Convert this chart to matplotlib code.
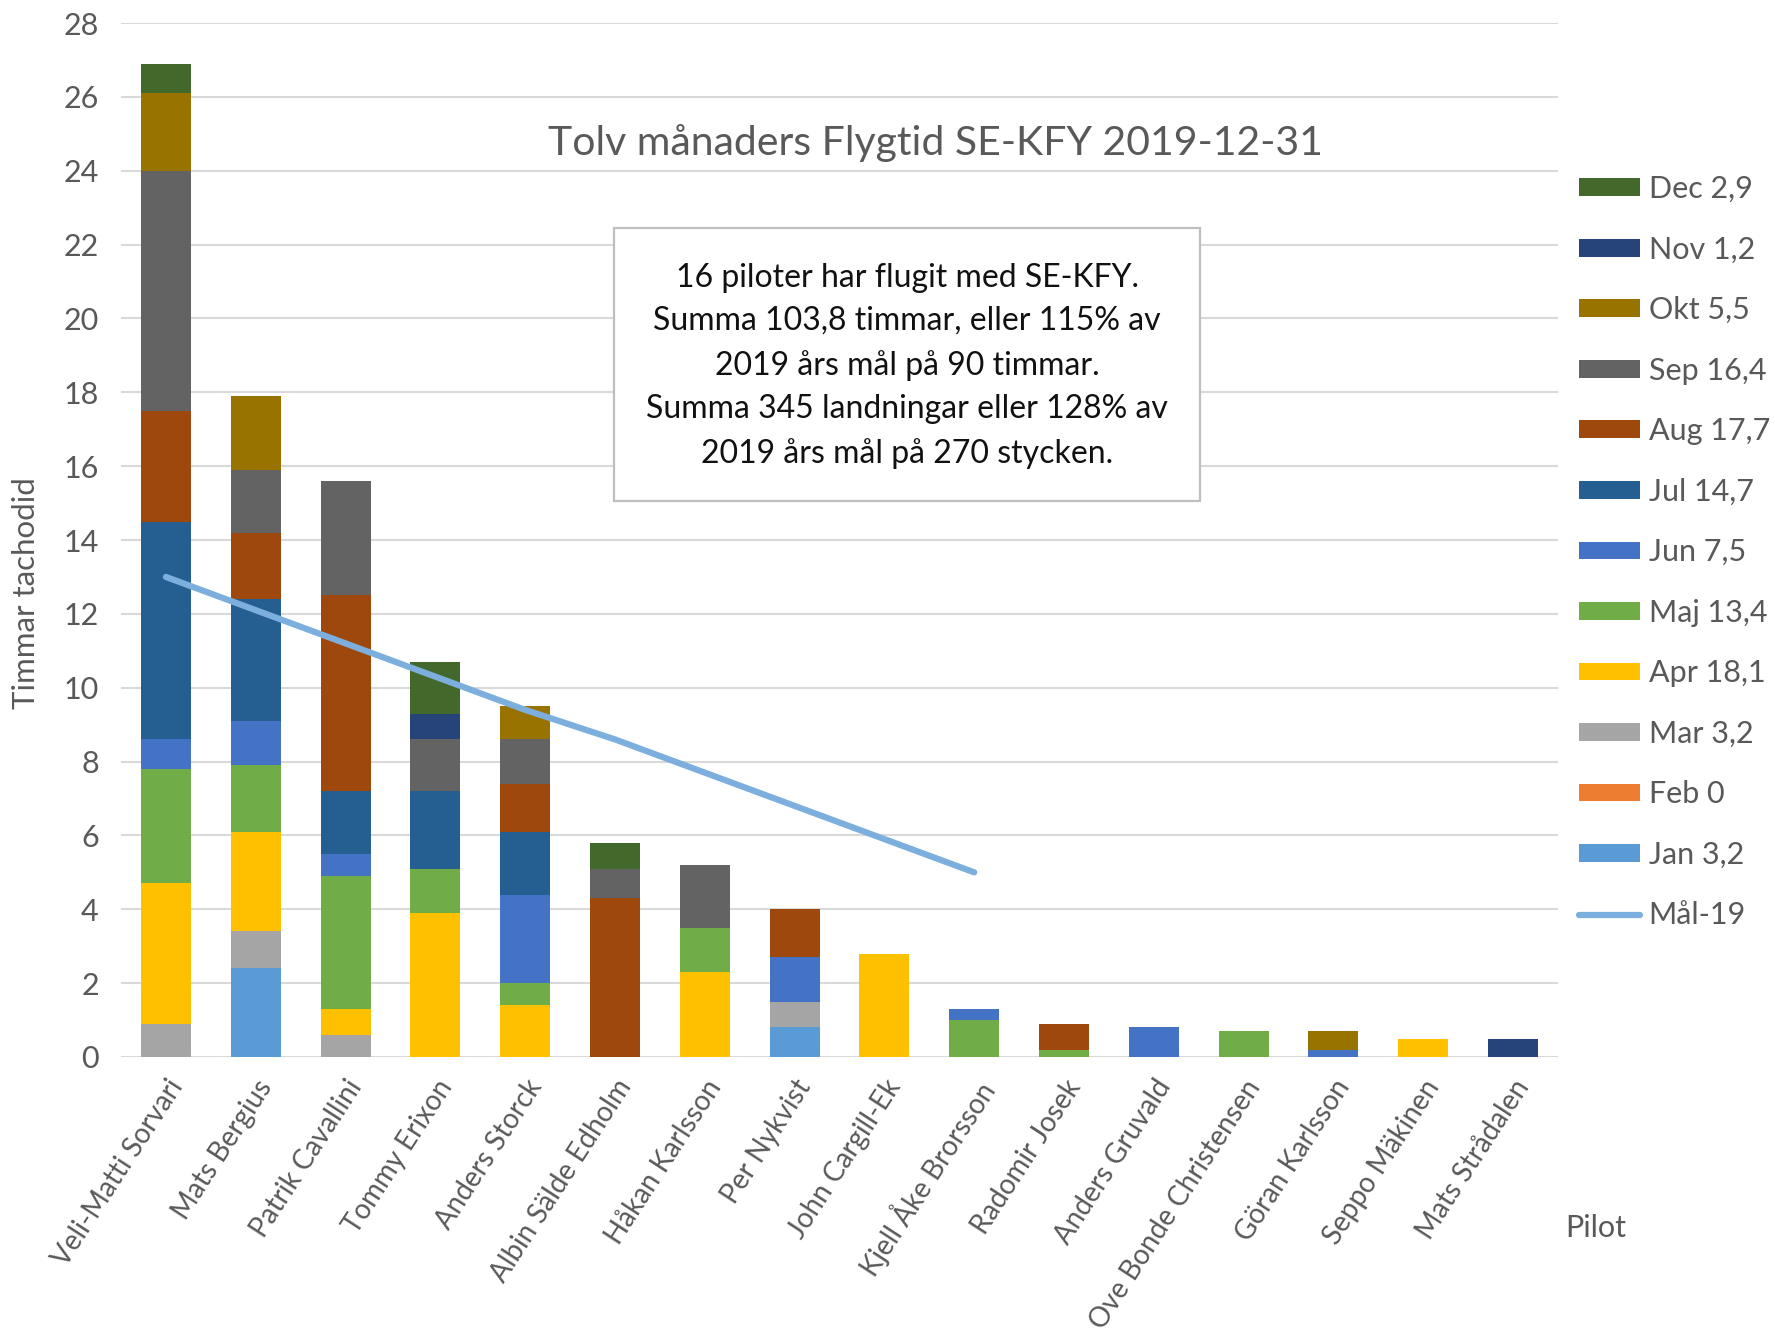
import matplotlib
matplotlib.use("Agg")
import matplotlib.pyplot as plt
import numpy as np
from matplotlib.patches import Rectangle, Patch
from matplotlib.lines import Line2D

plt.rcParams['font.family'] = ['Lato', 'DejaVu Sans']

pilots = ["Veli-Matti Sorvari", "Mats Bergius", "Patrik Cavallini", "Tommy Erixon",
          "Anders Storck", "Albin Sälde Edholm", "Håkan Karlsson", "Per Nykvist",
          "John Cargill-Ek", "Kjell Åke Brorsson", "Radomir Josek", "Anders Gruvald",
          "Ove Bonde Christensen", "Göran Karlsson", "Seppo Mäkinen", "Mats Strådalen"]

months = ["Jan", "Feb", "Mar", "Apr", "Maj", "Jun", "Jul", "Aug", "Sep", "Okt", "Nov", "Dec"]
month_totals = ["3,2", "0", "3,2", "18,1", "13,4", "7,5", "14,7", "17,7", "16,4", "5,5", "1,2", "2,9"]

jan = [0, 2.4, 0, 0, 0, 0, 0, 0.8, 0, 0, 0, 0, 0, 0, 0, 0]
feb = [0, 0, 0, 0, 0, 0, 0, 0, 0, 0, 0, 0, 0, 0, 0, 0]
mar = [0.9, 1.0, 0.6, 0, 0, 0, 0, 0.7, 0, 0, 0, 0, 0, 0, 0, 0]
apr = [3.8, 2.7, 0.7, 3.9, 1.4, 0, 2.3, 0, 2.8, 0, 0, 0, 0, 0, 0.5, 0]
maj = [3.1, 1.8, 3.6, 1.2, 0.6, 0, 1.2, 0, 0, 1.0, 0.2, 0, 0.7, 0, 0, 0]
jun = [0.8, 1.2, 0.6, 0, 2.4, 0, 0, 1.2, 0, 0.3, 0, 0.8, 0, 0.2, 0, 0]
jul = [5.9, 3.3, 1.7, 2.1, 1.7, 0, 0, 0, 0, 0, 0, 0, 0, 0, 0, 0]
aug = [3.0, 1.8, 5.3, 0, 1.3, 4.3, 0, 1.3, 0, 0, 0.7, 0, 0, 0, 0, 0]
sep = [6.5, 1.7, 3.1, 1.4, 1.2, 0.8, 1.7, 0, 0, 0, 0, 0, 0, 0, 0, 0]
okt = [2.1, 2.0, 0, 0, 0.9, 0, 0, 0, 0, 0, 0, 0, 0, 0.5, 0, 0]
nov = [0, 0, 0, 0.7, 0, 0, 0, 0, 0, 0, 0, 0, 0, 0, 0, 0.5]
dec = [0.8, 0, 0, 1.4, 0, 0.7, 0, 0, 0, 0, 0, 0, 0, 0, 0, 0]

mal_19 = [13.0, 12.1, 11.2, 10.3, 9.4, 8.6, 7.7, 6.8, 5.9, 5.0]

series = [jan, feb, mar, apr, maj, jun, jul, aug, sep, okt, nov, dec]
colors = ["#5B9BD5", "#ED7D31", "#A5A5A5", "#FFC000", "#70AD47", "#4472C4",
          "#255E91", "#9E480E", "#636363", "#997300", "#264478", "#43682B"]
line_color = "#7CAFDD"
text_gray = "#595959"

W, H = 1775, 1333
fig = plt.figure(figsize=(W / 100, H / 100), dpi=100)
left, right, top, bottom = 121, 1558, 23, 1057
ax = fig.add_axes([left / W, 1 - bottom / H, (right - left) / W, (bottom - top) / H])

x = np.arange(len(pilots))
base = np.zeros(len(pilots))
for vals, c in zip(series, colors):
    v = np.array(vals, dtype=float)
    ax.bar(x, v, width=0.557, bottom=base, color=c, zorder=2, linewidth=0)
    base += v

ax.plot(np.arange(len(mal_19)), mal_19, color=line_color, lw=4.5,
        solid_capstyle='round', zorder=3)

ax.set_xlim(-0.5, len(pilots) - 0.5)
ax.set_ylim(0, 28)
ax.set_yticks(np.arange(0, 29, 2))
ax.yaxis.grid(True, color="#D9D9D9", lw=1.5, zorder=0)
ax.set_axisbelow(True)
for s in ax.spines.values():
    s.set_visible(False)
ax.tick_params(axis='both', length=0, labelcolor=text_gray)
ax.tick_params(axis='y', pad=16, labelsize=22)
ax.set_xticks(x)
ax.set_xticklabels(pilots, rotation=57, ha='right', va='top',
                   rotation_mode='anchor', fontsize=20, color=text_gray)
ax.tick_params(axis='x', pad=13)

fig.text(26 / W, 1 - 593 / H, "Timmar tachodid", rotation=90, ha='center', va='center',
         fontsize=22.5, color=text_gray)
fig.text(935 / W, 1 - 143 / H, "Tolv månaders Flygtid SE-KFY 2019-12-31",
         ha='center', va='center', fontsize=29.5, color=text_gray)
fig.text(1596 / W, 1 - 1228 / H, "Pilot", ha='center', va='center',
         fontsize=22, color=text_gray)

# text box
rect = Rectangle((614 / W, 1 - 501 / H), (1200 - 614) / W, (501 - 228) / H,
                 transform=fig.transFigure, facecolor='white', edgecolor='#BFBFBF',
                 lw=1.6, zorder=5)
fig.patches.append(rect)
box_text = ("16 piloter har flugit med SE-KFY.\n"
            "Summa 103,8 timmar, eller 115% av\n"
            "2019 års mål på 90 timmar.\n"
            "Summa 345 landningar eller 128% av\n"
            "2019 års mål på 270 stycken.")
fig.text(907 / W, 1 - 366 / H, box_text, ha='center', va='center', fontsize=23,
         color='#111111', linespacing=1.56, zorder=6)

handles = [Patch(facecolor=c, edgecolor='none') for c in colors[::-1]]
labels = [f"{m} {t}" for m, t in zip(months[::-1], month_totals[::-1])]
handles.append(Line2D([0], [0], color=line_color, lw=4.5, solid_capstyle='round'))
labels.append("Mål-19")
leg = fig.legend(handles, labels, loc='upper left',
                 bbox_to_anchor=(1579 / W, 1 - 175 / H), frameon=False,
                 fontsize=22, handlelength=2.0, handleheight=0.52,
                 handletextpad=0.28, labelspacing=1.065, borderpad=0, borderaxespad=0)
for t in leg.get_texts():
    t.set_color(text_gray)

fig.savefig("out.png", dpi=100, facecolor='white')
